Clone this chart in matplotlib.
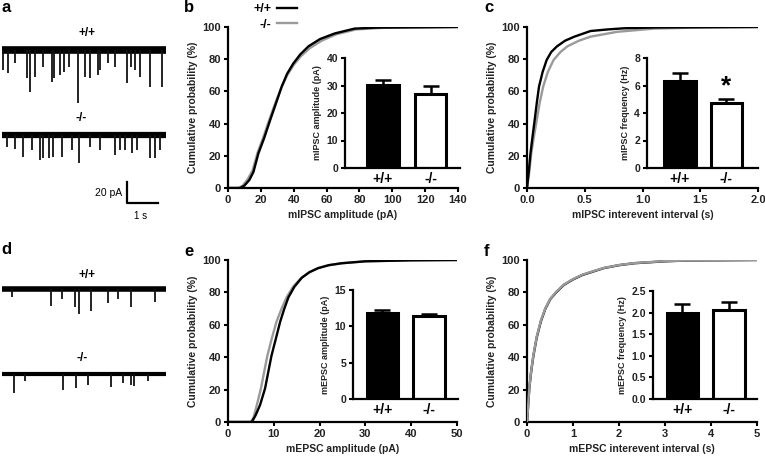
import matplotlib
matplotlib.use("Agg")
from matplotlib import pyplot as plt
import numpy as np

plt.rcParams['font.family'] = ['Liberation Sans', 'DejaVu Sans']
plt.rcParams['font.weight'] = 'bold'
plt.rcParams['axes.labelweight'] = 'bold'

W, H = 765, 459

# ---- traces (a, d): event times (s) and amplitudes (pA) ----
a_wt_t = [0.11, 0.27, 0.48, 0.86, 0.97, 1.13, 1.40, 1.67, 1.75, 1.94, 2.06, 2.23, 2.51,
          2.74, 2.90, 3.17, 3.23, 3.49, 3.71, 4.09, 4.23, 4.35, 4.52, 4.84, 5.22]
a_wt_amp = [19, 22, 12, 27, 40, 26, 16, 30, 27, 24, 21, 16, 50,
            26, 27, 24, 19, 12, 16, 31, 16, 19, 26, 35, 35]
a_ko_t = [0.22, 0.48, 0.75, 1.02, 1.29, 1.40, 1.59, 1.72, 1.99, 2.31, 2.55, 2.90, 3.23,
          3.71, 3.87, 4.03, 4.25, 4.41, 4.84, 5.00, 5.16]
a_ko_amp = [11, 13, 21, 14, 24, 22, 22, 21, 21, 14, 27, 11, 14,
            19, 14, 14, 17, 14, 22, 22, 14]
d_wt_t = [0.40, 1.65, 1.99, 2.42, 2.55, 2.93, 3.49, 3.82, 4.22, 5.00]
d_wt_amp = [8, 16, 10, 17, 24, 21, 13, 10, 17, 12]
d_ko_t = [0.45, 0.81, 2.04, 2.45, 2.85, 3.57, 3.98, 4.23, 4.33, 4.78]
d_ko_amp = [18, 7, 15, 13, 10, 12, 9, 10, 11, 7]

# ---- cumulative curves ----
b_wt_x = [0, 7.3, 10, 13, 15.5, 18.5, 22, 25.6, 29, 32.7, 36, 39.8, 44, 49, 56, 65, 77, 90, 140]
b_wt_y = [0, 0, 1.5, 5, 10, 21.5, 31, 42, 52, 63, 71, 77.4, 83, 88, 92.5, 96, 99, 99.6, 100]
b_ko_x = [0, 6.5, 9, 12, 15, 18, 21.5, 25, 28.5, 32.5, 36, 40, 44.5, 50, 57, 66, 78, 95, 140]
b_ko_y = [0, 0, 1.5, 5.5, 11, 22, 31.5, 42, 52, 62.5, 70, 76.5, 82, 87, 91.5, 95.5, 98.5, 99.5, 100]

c_wt_x = [0, 0.015, 0.03, 0.048, 0.066, 0.085, 0.104, 0.135, 0.17, 0.21, 0.26, 0.33, 0.41,
          0.55, 0.7, 0.84, 1.1, 2.0]
c_wt_y = [0, 10, 21.5, 32, 42, 53, 63, 72, 79.5, 84.5, 88, 91.5, 94, 97.5, 98.5, 99.2, 99.7, 100]
c_ko_x = [0, 0.02, 0.037, 0.06, 0.084, 0.11, 0.14, 0.18, 0.23, 0.29, 0.35, 0.45, 0.55,
          0.78, 1.1, 1.5, 2.0]
c_ko_y = [0, 10, 21.5, 32, 42, 53, 63, 72, 79.5, 84.5, 88, 91.5, 94, 97, 99, 99.7, 100]

e_wt_x = [0, 5.2, 6, 7, 8.1, 8.8, 9.5, 10.5, 11.4, 12.3, 13.2, 14.5, 16.1, 17.8, 19.7, 22,
          24.8, 30, 40, 50]
e_wt_y = [0, 0, 4, 10.5, 20.8, 31, 41, 52, 62, 70, 77, 83.5, 89, 92.5, 95, 96.8, 98, 99.2, 99.8, 100]
e_ko_x = [0, 5.0, 5.6, 6.3, 7.2, 7.9, 8.6, 9.6, 10.6, 11.7, 12.8, 14.2, 16, 17.8, 19.7, 22,
          25, 30, 40, 50]
e_ko_y = [0, 0, 3, 10.5, 20.8, 31, 41, 52, 62, 70, 77, 83.5, 89, 92.5, 95, 96.8, 98, 99.2, 99.8, 100]

f_wt_x = [0, 0.02, 0.05, 0.09, 0.14, 0.21, 0.3, 0.4, 0.51, 0.65, 0.8, 1.0, 1.2, 1.45, 1.67,
          2.0, 2.33, 3.0, 3.5, 5]
f_wt_y = [0, 8, 20.8, 31, 41, 52, 62, 70, 76, 80.5, 84.6, 88, 90.7, 93, 95, 96.8, 98, 99.2, 99.7, 100]
f_ko_x = f_wt_x
f_ko_y = [0, 8, 21, 31.5, 41.5, 52.5, 62.5, 70.3, 76.2, 80.8, 84.8, 88.2, 90.9, 93.2, 95.1,
          96.9, 98.1, 99.3, 99.7, 100]

# ---- inset bars: mean, sem ----
groups = ['+/+', '-/-']
b_bar = [30.2, 27.0]
b_err = [1.8, 3.0]
c_bar = [6.35, 4.7]
c_err = [0.55, 0.3]
e_bar = [11.8, 11.4]
e_err = [0.45, 0.3]
f_bar = [2.0, 2.07]
f_err = [0.2, 0.17]

GRAY = '#9a9a9a'
fig = plt.figure(figsize=(W / 100, H / 100), dpi=100)


def box(x0, y0, x1, y1):
    return [x0 / W, 1 - y1 / H, (x1 - x0) / W, (y1 - y0) / H]


def style(ax, fs=8):
    for s in ['top', 'right']:
        ax.spines[s].set_visible(False)
    for s in ['left', 'bottom']:
        ax.spines[s].set_linewidth(1.6)
    ax.tick_params(width=1.5, length=3, labelsize=fs, pad=2, labelcolor='#222222')


def cum_panel(rect, xw, yw, xk, yk, xlim, xticks, xlabel, ko_on_top=False):
    ax = fig.add_axes(box(*rect))
    z = (3, 2) if ko_on_top else (2, 3)
    l1, = ax.plot(xw, yw, color='black', lw=1.7, zorder=z[1])
    l2, = ax.plot(xk, yk, color=GRAY, lw=1.7, zorder=z[0])
    ax.set_xlim(xlim)
    ax.set_ylim(0, 100)
    ax.set_xticks(xticks)
    ax.set_yticks([0, 20, 40, 60, 80, 100])
    ax.set_ylabel('Cumulative probability (%)', fontsize=7.5, labelpad=3, color='#222222')
    ax.set_xlabel(xlabel, fontsize=7.5, labelpad=4, color='#222222')
    style(ax)
    return ax, l1, l2


def inset(rect, vals, errs, ylim, yticks, ylabel, xlim, fmt=None):
    ax = fig.add_axes(box(*rect))
    ax.patch.set_alpha(0)
    ax.bar([0, 1], vals, width=0.67, color=['black', 'white'], edgecolor='black',
           linewidth=2.2, zorder=2)
    ax.errorbar([0, 1], vals, yerr=[[0, 0], errs], fmt='none', ecolor='black',
                elinewidth=1.8, capsize=6, capthick=1.8, zorder=1)
    ax.set_xlim(xlim)
    ax.set_ylim(ylim)
    ax.set_yticks(yticks)
    if fmt:
        ax.set_yticklabels([fmt % v for v in yticks])
    ax.set_xticks([0, 1])
    ax.set_xticklabels(groups)
    ax.set_ylabel(ylabel, fontsize=6.5, labelpad=3, color='#222222')
    style(ax, fs=7.5)
    ax.tick_params(axis='x', length=0, labelsize=10, pad=3, labelcolor='black')
    return ax


axb, lw_, lk_ = cum_panel((228, 27, 458, 188), b_wt_x, b_wt_y, b_ko_x, b_ko_y, (0, 140),
                          range(0, 141, 20), 'mIPSC amplitude (pA)')
axb.legend([lw_, lk_], groups, loc='upper left', bbox_to_anchor=(253 / W, 1 - 3 / H),
           bbox_transform=fig.transFigure, markerfirst=False, frameon=False,
           fontsize=9, handlelength=1.6, handletextpad=0.5, labelspacing=0.3,
           borderaxespad=0, borderpad=0)
axc, _, _ = cum_panel((527, 27, 758, 188), c_wt_x, c_wt_y, c_ko_x, c_ko_y, (0, 2.0),
                      [0, 0.5, 1.0, 1.5, 2.0], 'mIPSC interevent interval (s)')
axc.set_xticklabels(['0.0', '0.5', '1.0', '1.5', '2.0'])
axe, _, _ = cum_panel((228, 260, 457, 422), e_wt_x, e_wt_y, e_ko_x, e_ko_y, (0, 50),
                      range(0, 51, 10), 'mEPSC amplitude (pA)')
axf, _, _ = cum_panel((527, 260, 757, 422), f_wt_x, f_wt_y, f_ko_x, f_ko_y, (0, 5),
                      range(0, 6), 'mEPSC interevent interval (s)', ko_on_top=True)

inset((345, 58, 460, 168), b_bar, b_err, (0, 40), [0, 10, 20, 30, 40],
      'mIPSC amplitude (pA)', (-0.8, 1.62))
ic = inset((647, 58, 758, 168), c_bar, c_err, (0, 8), [0, 2, 4, 6, 8],
           'mIPSC frequency (Hz)', (-0.71, 1.68))
ic.text(1, 5.1, '*', ha='center', va='bottom', fontsize=19)
inset((353, 290, 458, 399), e_bar, e_err, (0, 15), [0, 5, 10, 15],
      'mEPSC amplitude (pA)', (-0.63, 1.62))
inset((653, 291, 757, 399), f_bar, f_err, (0, 2.5), [0, 0.5, 1.0, 1.5, 2.0, 2.5],
      'mEPSC frequency (Hz)', (-0.63, 1.6), fmt='%.1f')

# ---- traces: one axes for the whole left column, 31 px per s, 1.05 px per pA ----
axt = fig.add_axes(box(0, 0, 170, 459))
axt.axis('off')
axt.set_xlim(0, 170 / 31)
axt.set_ylim(-409 / 1.05, 50 / 1.05)


def trace(t, amp, base, lw_base, t0=0.06, t1=5.35):
    axt.plot([t0, t1], [base, base], color='black', lw=lw_base, solid_capstyle='butt')
    axt.vlines(t, base, [base - a for a in amp], color='#111111', lw=1.3)


trace(a_wt_t, a_wt_amp, 0, 5.5)
trace(a_ko_t, a_ko_amp, -81, 4.5)
trace(d_wt_t, d_wt_amp, -227.6, 4)
trace(d_ko_t, d_ko_amp, -308.6, 3)
axt.text(2.8, 16, '+/+', ha='center', va='center', fontsize=8.5)
axt.text(2.61, -65, '-/-', ha='center', va='center', fontsize=8.5)
axt.text(2.8, -214, '+/+', ha='center', va='center', fontsize=8.5)
axt.text(2.64, -293, '-/-', ha='center', va='center', fontsize=8.5)
# scale bar 20 pA / 1 s
axt.plot([4.10, 4.10, 5.10], [-125.7, -145.7, -145.7], color='black', lw=1.6)
axt.text(3.93, -136, '20 pA', ha='right', va='center', fontsize=7.5, fontweight='normal')
axt.text(4.52, -158, '1 s', ha='center', va='center', fontsize=7, fontweight='normal')

for lab, x, y in [('a', 1, 8), ('b', 184, 8), ('c', 484, 8),
                  ('d', 1, 250), ('e', 184, 252), ('f', 484, 252)]:
    fig.text(x / W, 1 - y / H, lab, fontsize=12, fontweight='bold', va='center')

fig.savefig('out.png', dpi=100)
